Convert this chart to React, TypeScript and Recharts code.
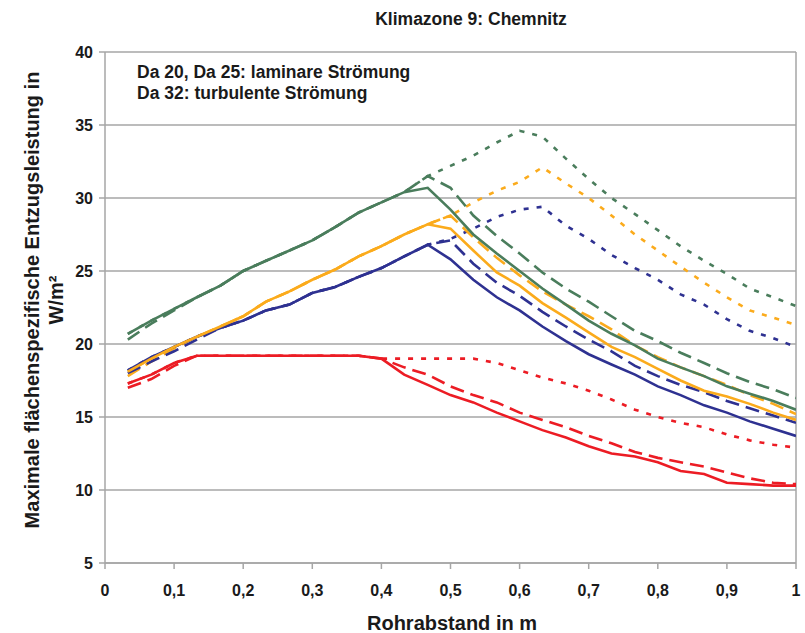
import React from 'react';
import { LineChart, Line, XAxis, YAxis, CartesianGrid, ReferenceLine } from 'recharts';

// Rohrabstand in m (30 Stützstellen, Schrittweite 1/30)
const X_VALUES = [
  0.033, 0.067, 0.1, 0.133, 0.167, 0.2, 0.233, 0.267, 0.3, 0.333,
  0.367, 0.4, 0.433, 0.467, 0.5, 0.533, 0.567, 0.6, 0.633, 0.667,
  0.7, 0.733, 0.767, 0.8, 0.833, 0.867, 0.9, 0.933, 0.967, 1.0,
];

const GREEN_SOLID = [
  20.7, 21.6, 22.4, 23.2, 24.0, 25.0, 25.7, 26.4, 27.1, 28.0,
  29.0, 29.7, 30.4, 30.7, 29.2, 27.5, 26.2, 25.0, 23.8, 22.7,
  21.6, 20.7, 19.9, 19.0, 18.4, 17.8, 17.1, 16.6, 16.1, 15.5,
];
const GREEN_DASHED = [
  20.3, 21.4, 22.3, 23.2, 24.0, 25.0, 25.7, 26.4, 27.1, 28.0,
  29.0, 29.7, 30.4, 31.5, 30.7, 28.8, 27.4, 26.2, 24.9, 23.8,
  22.9, 21.9, 20.9, 20.2, 19.4, 18.7, 18.0, 17.4, 16.9, 16.3,
];
const GREEN_DOTTED = [
  20.7, 21.6, 22.4, 23.2, 24.0, 25.0, 25.7, 26.4, 27.1, 28.0,
  29.0, 29.7, 30.4, 31.5, 32.2, 32.9, 33.8, 34.6, 34.2, 32.7,
  31.3, 30.0, 28.9, 27.8, 26.7, 25.7, 24.8, 23.8, 23.2, 22.6,
];

const ORANGE_SOLID = [
  18.1, 19.0, 19.8, 20.5, 21.2, 21.9, 22.9, 23.6, 24.4, 25.1,
  26.0, 26.7, 27.5, 28.2, 27.9, 26.4, 24.9, 24.0, 22.8, 21.8,
  20.8, 19.8, 19.1, 18.3, 17.5, 16.8, 16.4, 15.9, 15.3, 14.8,
];
const ORANGE_DASHED = [
  17.8, 18.8, 19.7, 20.5, 21.2, 21.9, 22.9, 23.6, 24.4, 25.1,
  26.0, 26.7, 27.5, 28.2, 28.8, 27.3, 25.9, 24.7, 23.6, 22.7,
  21.9, 21.0, 19.9, 19.1, 18.4, 17.8, 17.2, 16.5, 15.9, 15.2,
];
const ORANGE_DOTTED = [
  18.1, 19.0, 19.8, 20.5, 21.2, 21.9, 22.9, 23.6, 24.4, 25.1,
  26.0, 26.7, 27.5, 28.2, 28.8, 29.7, 30.5, 31.1, 32.1, 31.0,
  30.0, 28.8, 27.5, 26.4, 25.3, 24.2, 23.2, 22.3, 21.8, 21.3,
];

const BLUE_SOLID = [
  18.2, 19.1, 19.8, 20.5, 21.1, 21.6, 22.3, 22.7, 23.5, 23.9,
  24.6, 25.2, 26.0, 26.8, 25.8, 24.4, 23.2, 22.3, 21.2, 20.2,
  19.3, 18.6, 17.9, 17.1, 16.5, 15.8, 15.3, 14.7, 14.2, 13.7,
];
const BLUE_DASHED = [
  18.0, 18.8, 19.5, 20.3, 21.1, 21.6, 22.3, 22.7, 23.5, 23.9,
  24.6, 25.2, 26.0, 26.8, 27.1, 25.5, 24.2, 23.3, 22.2, 21.2,
  20.3, 19.5, 18.5, 17.8, 17.2, 16.7, 16.1, 15.6, 15.1, 14.6,
];
const BLUE_DOTTED = [
  18.2, 19.1, 19.8, 20.5, 21.1, 21.6, 22.3, 22.7, 23.5, 23.9,
  24.6, 25.2, 26.0, 26.8, 27.2, 27.9, 28.7, 29.2, 29.4, 28.1,
  27.2, 26.1, 25.2, 24.4, 23.4, 22.7, 21.7, 20.9, 20.4, 19.8,
];

const RED_SOLID = [
  17.3, 17.9, 18.7, 19.2, 19.2, 19.2, 19.2, 19.2, 19.2, 19.2,
  19.2, 19.0, 17.9, 17.2, 16.5, 16.0, 15.3, 14.7, 14.1, 13.6,
  13.0, 12.5, 12.3, 11.9, 11.3, 11.1, 10.5, 10.4, 10.3, 10.3,
];
const RED_DASHED = [
  17.0, 17.6, 18.5, 19.2, 19.2, 19.2, 19.2, 19.2, 19.2, 19.2,
  19.2, 19.0, 18.4, 17.9, 17.1, 16.5, 16.0, 15.3, 14.8, 14.3,
  13.7, 13.2, 12.6, 12.2, 11.9, 11.6, 11.2, 10.8, 10.5, 10.4,
];
const RED_DOTTED = [
  17.3, 17.9, 18.7, 19.2, 19.2, 19.2, 19.2, 19.2, 19.2, 19.2,
  19.2, 19.0, 19.0, 19.0, 19.0, 19.0, 18.7, 18.2, 17.7, 17.3,
  16.8, 16.2, 15.5, 15.0, 14.6, 14.3, 13.8, 13.4, 13.1, 12.9,
];

const X_TICKS = [0, 0.1, 0.2, 0.3, 0.4, 0.5, 0.6, 0.7, 0.8, 0.9, 1];
const Y_TICKS = [5, 10, 15, 20, 25, 30, 35, 40];

const GREEN = '#4a7d5c';
const ORANGE = '#fbab1c';
const BLUE = '#2e3191';
const RED = '#ec1c24';

const DASH = '14 7';
const DOT = '5 8';

const data = X_VALUES.map((x, i) => ({
  x,
  gS: GREEN_SOLID[i], gD: GREEN_DASHED[i], gP: GREEN_DOTTED[i],
  oS: ORANGE_SOLID[i], oD: ORANGE_DASHED[i], oP: ORANGE_DOTTED[i],
  bS: BLUE_SOLID[i], bD: BLUE_DASHED[i], bP: BLUE_DOTTED[i],
  rS: RED_SOLID[i], rD: RED_DASHED[i], rP: RED_DOTTED[i],
}));

const series = [
  { key: 'gP', color: GREEN, dash: DOT },
  { key: 'oP', color: ORANGE, dash: DOT },
  { key: 'bP', color: BLUE, dash: DOT },
  { key: 'rP', color: RED, dash: DOT },
  { key: 'gD', color: GREEN, dash: DASH },
  { key: 'oD', color: ORANGE, dash: DASH },
  { key: 'bD', color: BLUE, dash: DASH },
  { key: 'rD', color: RED, dash: DASH },
  { key: 'bS', color: BLUE, dash: undefined },
  { key: 'oS', color: ORANGE, dash: undefined },
  { key: 'gS', color: GREEN, dash: undefined },
  { key: 'rS', color: RED, dash: undefined },
];

const FONT = 'Arial, "Liberation Sans", sans-serif';
const TEXT = '#1a1a1a';
const tickStyle = { fill: TEXT, fontSize: 16, fontWeight: 'bold', fontFamily: FONT };

const App: React.FC = () => {
  return (
    <div style={{ position: 'absolute', left: 0, top: 0, width: 805, height: 633, background: '#fff' }}>
      <LineChart
        width={805}
        height={633}
        data={data}
        margin={{ top: 52, right: 9, bottom: 30, left: 0 }}
      >
        <CartesianGrid stroke="#a6a6a6" strokeWidth={1.5} vertical={false} />
        <XAxis
          dataKey="x"
          type="number"
          domain={[0, 1]}
          ticks={X_TICKS}
          tickFormatter={(v: number) => String(v).replace('.', ',')}
          tick={tickStyle}
          tickSize={6}
          tickMargin={16}
          height={40}
          stroke="#a6a6a6"
          strokeWidth={1.5}
          allowDataOverflow
        />
        <YAxis
          type="number"
          domain={[5, 40]}
          ticks={Y_TICKS}
          tick={tickStyle}
          tickSize={6}
          tickMargin={6}
          width={105}
          stroke="#a6a6a6"
          strokeWidth={1.5}
          allowDataOverflow
        />
        <ReferenceLine x={1} stroke="#a6a6a6" strokeWidth={1.5} />
        {series.map((s) => (
          <Line
            key={s.key}
            dataKey={s.key}
            type="linear"
            stroke={s.color}
            strokeWidth={2.6}
            strokeDasharray={s.dash}
            dot={false}
            activeDot={false}
            isAnimationActive={false}
          />
        ))}
      </LineChart>
      <svg
        width={805}
        height={633}
        style={{ position: 'absolute', left: 0, top: 0, pointerEvents: 'none' }}
      >
        <text x={471} y={25} textAnchor="middle" fontFamily={FONT} fontWeight="bold" fontSize={17.5} fill={TEXT}>
          Klimazone 9: Chemnitz
        </text>
        <text x={137} y={78} fontFamily={FONT} fontWeight="bold" fontSize={17.5} fill={TEXT}>
          Da 20, Da 25: laminare Strömung
        </text>
        <text x={137} y={99} fontFamily={FONT} fontWeight="bold" fontSize={17.5} fill={TEXT}>
          Da 32: turbulente Strömung
        </text>
        <text x={452} y={630} textAnchor="middle" fontFamily={FONT} fontWeight="bold" fontSize={20} fill={TEXT}>
          Rohrabstand in m
        </text>
        <text transform="translate(39,300) rotate(-90)" textAnchor="middle" fontFamily={FONT} fontWeight="bold" fontSize={20} fill={TEXT}>
          Maximale flächenspezifische Entzugsleistung in
        </text>
        <text transform="translate(63,300) rotate(-90)" textAnchor="middle" fontFamily={FONT} fontWeight="bold" fontSize={20} fill={TEXT}>
          W/m²
        </text>
      </svg>
    </div>
  );
};

export default App;
